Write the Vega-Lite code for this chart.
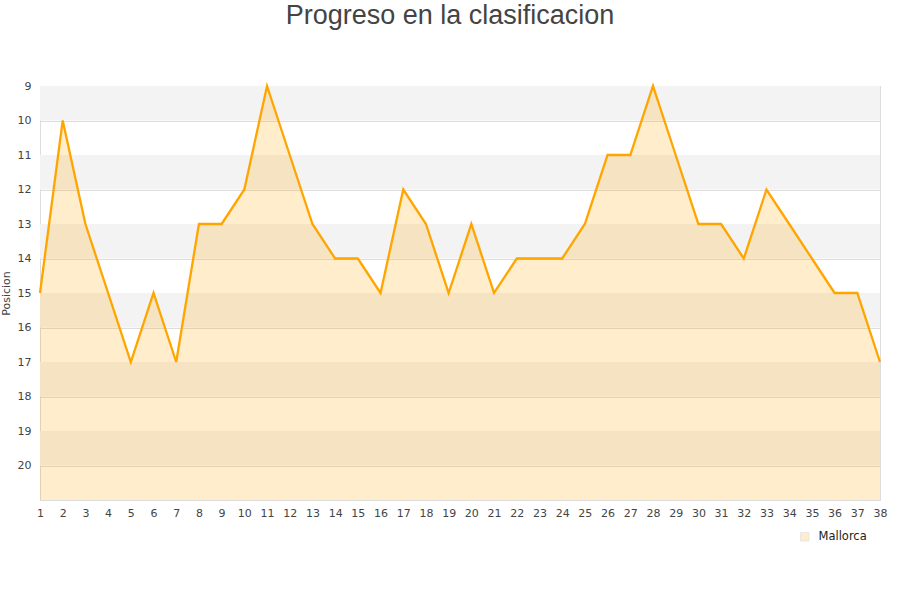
{
  "$schema": "https://vega.github.io/schema/vega-lite/v6.json",
  "width": 840,
  "height": 414,
  "autosize": {"type": "none"},
  "padding": {"left": 40, "top": 86, "right": 20, "bottom": 100},
  "background": "white",
  "title": {
    "text": "Progreso en la clasificacion",
    "font": "Liberation Sans",
    "fontSize": 27,
    "fontWeight": "normal",
    "color": "#444444",
    "anchor": "middle",
    "offset": 50,
    "dx": -10
  },
  "config": {
    "view": {"stroke": "#dddddd"},
    "axis": {
      "labelFont": "DejaVu Sans",
      "labelFontSize": 11,
      "labelColor": "#444444",
      "titleFont": "DejaVu Sans",
      "titleFontWeight": "normal",
      "titleColor": "#444444",
      "domain": false,
      "ticks": false,
      "labelOverlap": false,
      "labelFlush": false,
      "zindex": 1
    },
    "axisY": {"grid": true, "gridColor": "#dddddd", "tickCount": 12, "labelPadding": 9, "titleFontSize": 11, "titlePadding": 6, "labelExpr": "datum.value == 21 ? '' : datum.label"},
    "axisX": {"grid": false, "tickCount": 38, "labelPadding": 7}
  },
  "datasets": {
    "bands": [
      {"y0": 9, "y1": 10},
      {"y0": 11, "y1": 12},
      {"y0": 13, "y1": 14},
      {"y0": 15, "y1": 16},
      {"y0": 17, "y1": 18},
      {"y0": 19, "y1": 20}
    ],
    "pos": [
      {"jornada": 1, "posicion": 15, "equipo": "Mallorca"},
      {"jornada": 2, "posicion": 10, "equipo": "Mallorca"},
      {"jornada": 3, "posicion": 13, "equipo": "Mallorca"},
      {"jornada": 4, "posicion": 15, "equipo": "Mallorca"},
      {"jornada": 5, "posicion": 17, "equipo": "Mallorca"},
      {"jornada": 6, "posicion": 15, "equipo": "Mallorca"},
      {"jornada": 7, "posicion": 17, "equipo": "Mallorca"},
      {"jornada": 8, "posicion": 13, "equipo": "Mallorca"},
      {"jornada": 9, "posicion": 13, "equipo": "Mallorca"},
      {"jornada": 10, "posicion": 12, "equipo": "Mallorca"},
      {"jornada": 11, "posicion": 9, "equipo": "Mallorca"},
      {"jornada": 12, "posicion": 11, "equipo": "Mallorca"},
      {"jornada": 13, "posicion": 13, "equipo": "Mallorca"},
      {"jornada": 14, "posicion": 14, "equipo": "Mallorca"},
      {"jornada": 15, "posicion": 14, "equipo": "Mallorca"},
      {"jornada": 16, "posicion": 15, "equipo": "Mallorca"},
      {"jornada": 17, "posicion": 12, "equipo": "Mallorca"},
      {"jornada": 18, "posicion": 13, "equipo": "Mallorca"},
      {"jornada": 19, "posicion": 15, "equipo": "Mallorca"},
      {"jornada": 20, "posicion": 13, "equipo": "Mallorca"},
      {"jornada": 21, "posicion": 15, "equipo": "Mallorca"},
      {"jornada": 22, "posicion": 14, "equipo": "Mallorca"},
      {"jornada": 23, "posicion": 14, "equipo": "Mallorca"},
      {"jornada": 24, "posicion": 14, "equipo": "Mallorca"},
      {"jornada": 25, "posicion": 13, "equipo": "Mallorca"},
      {"jornada": 26, "posicion": 11, "equipo": "Mallorca"},
      {"jornada": 27, "posicion": 11, "equipo": "Mallorca"},
      {"jornada": 28, "posicion": 9, "equipo": "Mallorca"},
      {"jornada": 29, "posicion": 11, "equipo": "Mallorca"},
      {"jornada": 30, "posicion": 13, "equipo": "Mallorca"},
      {"jornada": 31, "posicion": 13, "equipo": "Mallorca"},
      {"jornada": 32, "posicion": 14, "equipo": "Mallorca"},
      {"jornada": 33, "posicion": 12, "equipo": "Mallorca"},
      {"jornada": 34, "posicion": 13, "equipo": "Mallorca"},
      {"jornada": 35, "posicion": 14, "equipo": "Mallorca"},
      {"jornada": 36, "posicion": 15, "equipo": "Mallorca"},
      {"jornada": 37, "posicion": 15, "equipo": "Mallorca"},
      {"jornada": 38, "posicion": 17, "equipo": "Mallorca"}
    ]
  },
  "layer": [
    {
      "data": {"name": "bands"},
      "mark": {"type": "rect", "color": "#f3f3f3"},
      "encoding": {
        "y": {
          "field": "y0",
          "type": "quantitative",
          "title": "Posicion",
          "scale": {"domain": [9, 21], "reverse": true, "nice": false, "zero": false}
        },
        "y2": {"field": "y1"}
      }
    },
    {
      "data": {"name": "pos"},
      "mark": {"type": "area", "opacity": 0.2},
      "encoding": {
        "x": {
          "field": "jornada",
          "type": "quantitative",
          "title": null,
          "scale": {"domain": [1, 38], "nice": false, "zero": false}
        },
        "y": {"field": "posicion", "type": "quantitative", "title": "Posicion"},
        "y2": {"datum": 21},
        "color": {
          "field": "equipo",
          "type": "nominal",
          "scale": {"range": ["#ffa500"]},
          "legend": {
            "title": null,
            "orient": "none",
            "legendX": 759,
            "legendY": 445,
            "symbolType": "square",
            "symbolSize": 70,
            "symbolStrokeColor": "#888888",
            "symbolStrokeWidth": 1,
            "labelFont": "DejaVu Sans",
            "labelFontSize": 11.5,
            "labelColor": "#222222",
            "labelOffset": 8,
            "encode": {
              "symbols": {
                "enter": {
                  "stroke": {"value": "#888888"},
                  "strokeWidth": {"value": 1},
                  "strokeOpacity": {"value": 1}
                },
                "update": {
                  "opacity": {"value": 1},
                  "fillOpacity": {"value": 0.25},
                  "stroke": {"value": "#888888"},
                  "strokeOpacity": {"value": 1},
                  "strokeWidth": {"value": 1}
                }
              }
            }
          }
        }
      }
    },
    {
      "data": {"name": "pos"},
      "mark": {"type": "line", "color": "#ffa500", "strokeWidth": 2.3},
      "encoding": {
        "x": {"field": "jornada", "type": "quantitative", "title": null},
        "y": {"field": "posicion", "type": "quantitative", "title": "Posicion"}
      }
    }
  ]
}
